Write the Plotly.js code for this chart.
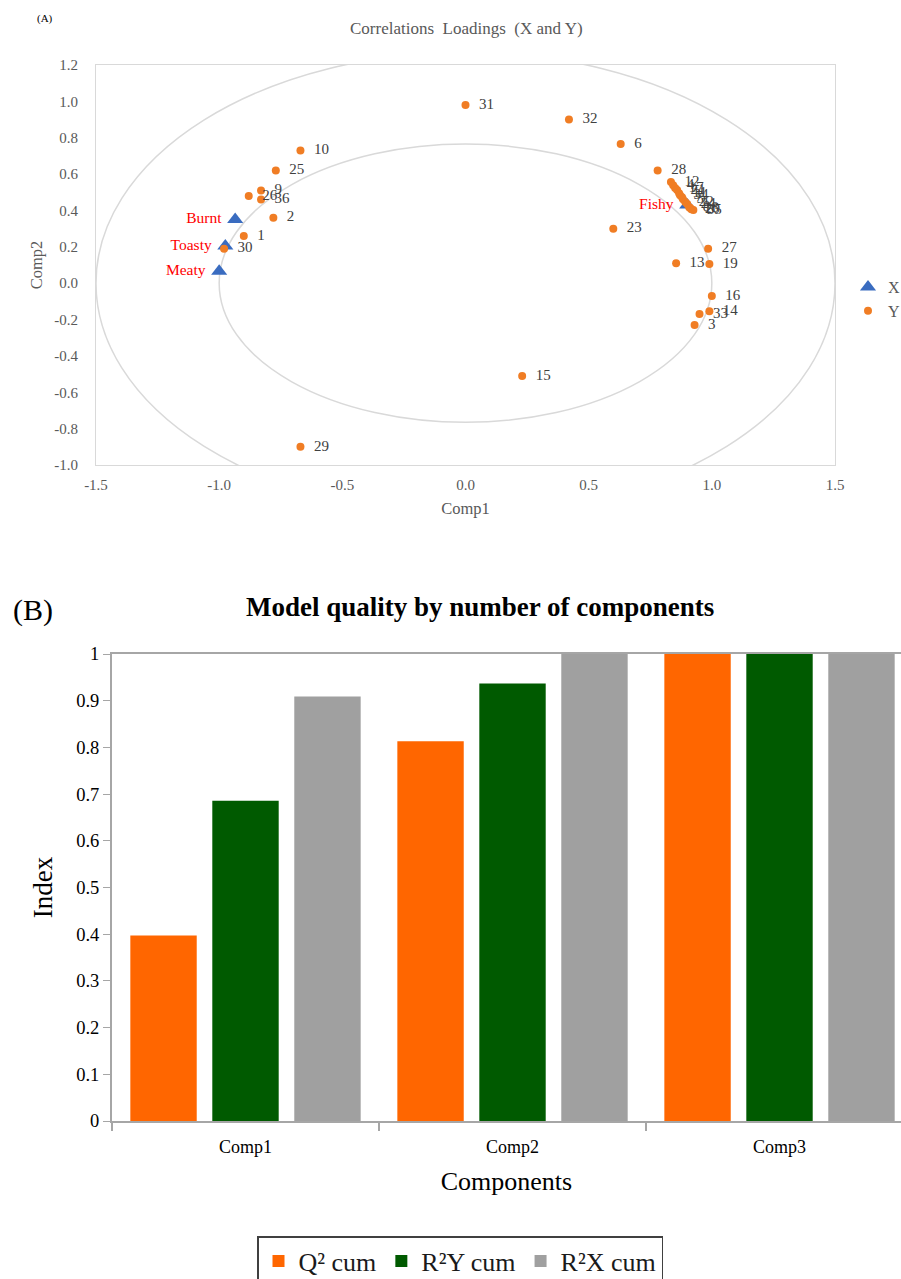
<!DOCTYPE html>
<html>
<head>
<meta charset="utf-8">
<script src="https://cdn.plot.ly/plotly-3.0.1.min.js"></script>
<style>html,body{margin:0;padding:0;background:#fff;}#chart{width:901px;height:1279px;}</style>
</head>
<body>
<div id="chart"></div>
<script>
// ---- Panel A: correlation loadings ----
const yLabels = ['31','32','6','10','28','25','9','26','36','2','1','30','23','27','13','19','16','14','33','3','15','29',
                 '12','4','17','21','11','34','7','5','22','24','8','18','20','35'];
const yComp1 = [0.00,0.42,0.63,-0.67,0.78,-0.77,-0.83,-0.88,-0.83,-0.78,-0.90,-0.98,0.60,0.985,0.855,0.99,1.00,0.99,0.95,0.93,0.23,-0.67,
                0.834,0.843,0.851,0.859,0.867,0.871,0.879,0.883,0.892,0.900,0.908,0.912,0.917,0.925];
const yComp2 = [0.98,0.90,0.765,0.73,0.62,0.62,0.51,0.48,0.46,0.36,0.26,0.19,0.30,0.19,0.11,0.105,-0.07,-0.155,-0.17,-0.23,-0.51,-0.90,
                0.556,0.539,0.523,0.512,0.495,0.484,0.473,0.462,0.446,0.435,0.418,0.413,0.407,0.402];
const xLabels = ['Burnt','Toasty','Meaty','Fishy'];
const xComp1 = [-0.935,-0.975,-1.00,0.90];
const xComp2 = [0.35,0.205,0.065,0.43];
const comp1Ticks = [-1.5,-1.0,-0.5,0,0.5,1.0,1.5];
const comp1TickText = ['-1.5','-1.0','-0.5','0.0','0.5','1.0','1.5'];
const comp2Ticks = [-1.0,-0.8,-0.6,-0.4,-0.2,0,0.2,0.4,0.6,0.8,1.0,1.2];
const comp2TickText = ['-1.0','-0.8','-0.6','-0.4','-0.2','0.0','0.2','0.4','0.6','0.8','1.0','1.2'];

// ---- Panel B: model quality ----
const components = ['Comp1','Comp2','Comp3'];
const q2cum  = [0.397,0.813,1.0];
const r2ycum = [0.686,0.937,1.0];
const r2xcum = [0.909,1.0,1.0];

const SERIF = 'Liberation Serif, Times New Roman, serif';
const W = 901, H = 1279;
const px = v => v / W;
const py = v => 1 - v / H;

const topDomX = [px(96), px(835)];
const topDomY = [py(465), py(65)];
const zeroPosY = topDomY[0] + (0 - (-1)) / 2.2 * (topDomY[1] - topDomY[0]);
const zeroPosX = topDomX[0] + 0.5 * (topDomX[1] - topDomX[0]);

const traces = [
  {type:'scatter', mode:'markers+text', name:'X', x:xComp1, y:xComp2, text:xLabels,
   texttemplate:'%{text} ', textposition:'middle left', textfont:{family:SERIF, size:15.5, color:'#ff0000'},
   marker:{symbol:'triangle-up', size:14, color:'#3a6cc0'}, xaxis:'x', yaxis:'y', legend:'legend', cliponaxis:false},
  {type:'scatter', mode:'markers+text', name:'Y', x:yComp1, y:yComp2, text:yLabels,
   texttemplate:'  %{text}', textposition:'middle right', textfont:{family:SERIF, size:15, color:'#404040'},
   marker:{symbol:'circle', size:8, color:'#f07d24'}, xaxis:'x', yaxis:'y', legend:'legend', cliponaxis:false},
  {type:'bar', name:'Q² cum', x:components, y:q2cum, marker:{color:'#ff6600'}, xaxis:'x3', yaxis:'y3', legend:'legend2'},
  {type:'bar', name:'R²Y cum', x:components, y:r2ycum, marker:{color:'#005a00'}, xaxis:'x3', yaxis:'y3', legend:'legend2'},
  {type:'bar', name:'R²X cum', x:components, y:r2xcum, marker:{color:'#a0a0a0'}, xaxis:'x3', yaxis:'y3', legend:'legend2'}
];

const layout = {
  width:W, height:H, margin:{l:0,r:0,t:0,b:0,autoexpand:false},
  paper_bgcolor:'#fff', plot_bgcolor:'rgba(0,0,0,0)',
  font:{family:SERIF, color:'#595959'},
  barmode:'group', bargap:0.079, bargroupgap:0.19,
  xaxis:{domain:topDomX, anchor:'y', range:[-1.5,1.5], tickmode:'array', tickvals:comp1Ticks, ticktext:comp1TickText,
         showline:true, mirror:true, linecolor:'#d9d9d9', linewidth:1, showgrid:false, zeroline:false, ticks:'',
         ticklabelstandoff:6, tickfont:{family:SERIF, size:15, color:'#595959'},
         title:{text:'Comp1', font:{family:SERIF, size:16.5, color:'#595959'}, standoff:10}},
  yaxis:{domain:topDomY, anchor:'x', range:[-1,1.2], tickmode:'array', tickvals:comp2Ticks, ticktext:comp2TickText,
         showline:true, mirror:true, linecolor:'#d9d9d9', linewidth:1, showgrid:false, zeroline:false, ticks:'',
         ticklabelstandoff:14, tickfont:{family:SERIF, size:15, color:'#595959'},
         title:{text:'Comp2', font:{family:SERIF, size:16.5, color:'#595959'}, standoff:7}},
  xaxis2:{overlaying:'x', anchor:'free', position:zeroPosY, domain:topDomX, range:[-1.5,1.5],
          showline:true, linecolor:'#bfbfbf', linewidth:1, ticks:'outside', ticklen:4, tickcolor:'#bfbfbf',
          dtick:0.1, tick0:0, showticklabels:false, showgrid:false, zeroline:false},
  yaxis2:{overlaying:'y', anchor:'free', position:zeroPosX, domain:topDomY, range:[-1,1.2],
          showline:true, linecolor:'#bfbfbf', linewidth:1, ticks:'outside', ticklen:4, tickcolor:'#bfbfbf',
          dtick:0.1, tick0:0, showticklabels:false, showgrid:false, zeroline:false},
  xaxis3:{domain:[px(112),1], anchor:'y3', type:'category', range:[-0.5,2.455],
          showline:true, mirror:true, linecolor:'#a6a6a6', linewidth:2, ticks:'outside', tickson:'boundaries',
          ticklen:8, tickcolor:'#a6a6a6', tickwidth:1.5, showgrid:false, ticklabelstandoff:8,
          tickfont:{family:SERIF, size:18, color:'#000'},
          title:{text:'Components', font:{family:SERIF, size:26, color:'#000'}, standoff:16}},
  yaxis3:{domain:[py(1121), py(654)], anchor:'x3', range:[0,1], dtick:0.1, tick0:0,
          showline:true, linecolor:'#a6a6a6', linewidth:2, ticks:'outside', ticklen:7, tickcolor:'#a6a6a6',
          showgrid:false, zeroline:false, tickfont:{family:SERIF, size:18.5, color:'#000'},
          title:{text:'Index', font:{family:SERIF, size:27, color:'#000'}, standoff:16}},
  legend:{x:px(848), y:py(270), xanchor:'left', yanchor:'top', bgcolor:'rgba(0,0,0,0)',
          font:{family:SERIF, size:16, color:'#595959'}, itemwidth:30, tracegroupgap:0},
  legend2:{x:px(460), y:py(1236), xanchor:'center', yanchor:'top', orientation:'h',
           bordercolor:'#404040', borderwidth:1.5, bgcolor:'#fff',
           font:{family:SERIF, size:26, color:'#1a1a1a'}, itemwidth:30},
  shapes:[
    {type:'circle', xref:'x', yref:'y', x0:-1.5, x1:1.5, y0:-1.27, y1:1.27, layer:'below', line:{color:'#d9d9d9', width:1.5}},
    {type:'circle', xref:'x', yref:'y', x0:-1.0, x1:1.0, y0:-0.765, y1:0.765, layer:'below', line:{color:'#d9d9d9', width:1.5}}
  ],
  annotations:[
    {text:'(A)', xref:'paper', yref:'paper', x:px(45), y:py(18), xanchor:'center', yanchor:'middle', showarrow:false, font:{family:SERIF, size:11, color:'#000'}},
    {text:'Correlations\u00a0 Loadings\u00a0 (X and Y)', xref:'paper', yref:'paper', x:px(466), y:py(28), xanchor:'center', yanchor:'middle', showarrow:false,
     font:{family:SERIF, size:17, color:'#595959'}},
    {text:'(B)', xref:'paper', yref:'paper', x:px(33), y:py(610), xanchor:'center', yanchor:'middle', showarrow:false, font:{family:SERIF, size:30, color:'#000'}},
    {text:'<b>Model quality by number of components</b>', xref:'paper', yref:'paper', x:px(480), y:py(607), xanchor:'center', yanchor:'middle', showarrow:false,
     font:{family:SERIF, size:27, color:'#000'}}
  ]
};

Plotly.newPlot('chart', traces, layout, {displayModeBar:false, staticPlot:true});
</script>
</body>
</html>
